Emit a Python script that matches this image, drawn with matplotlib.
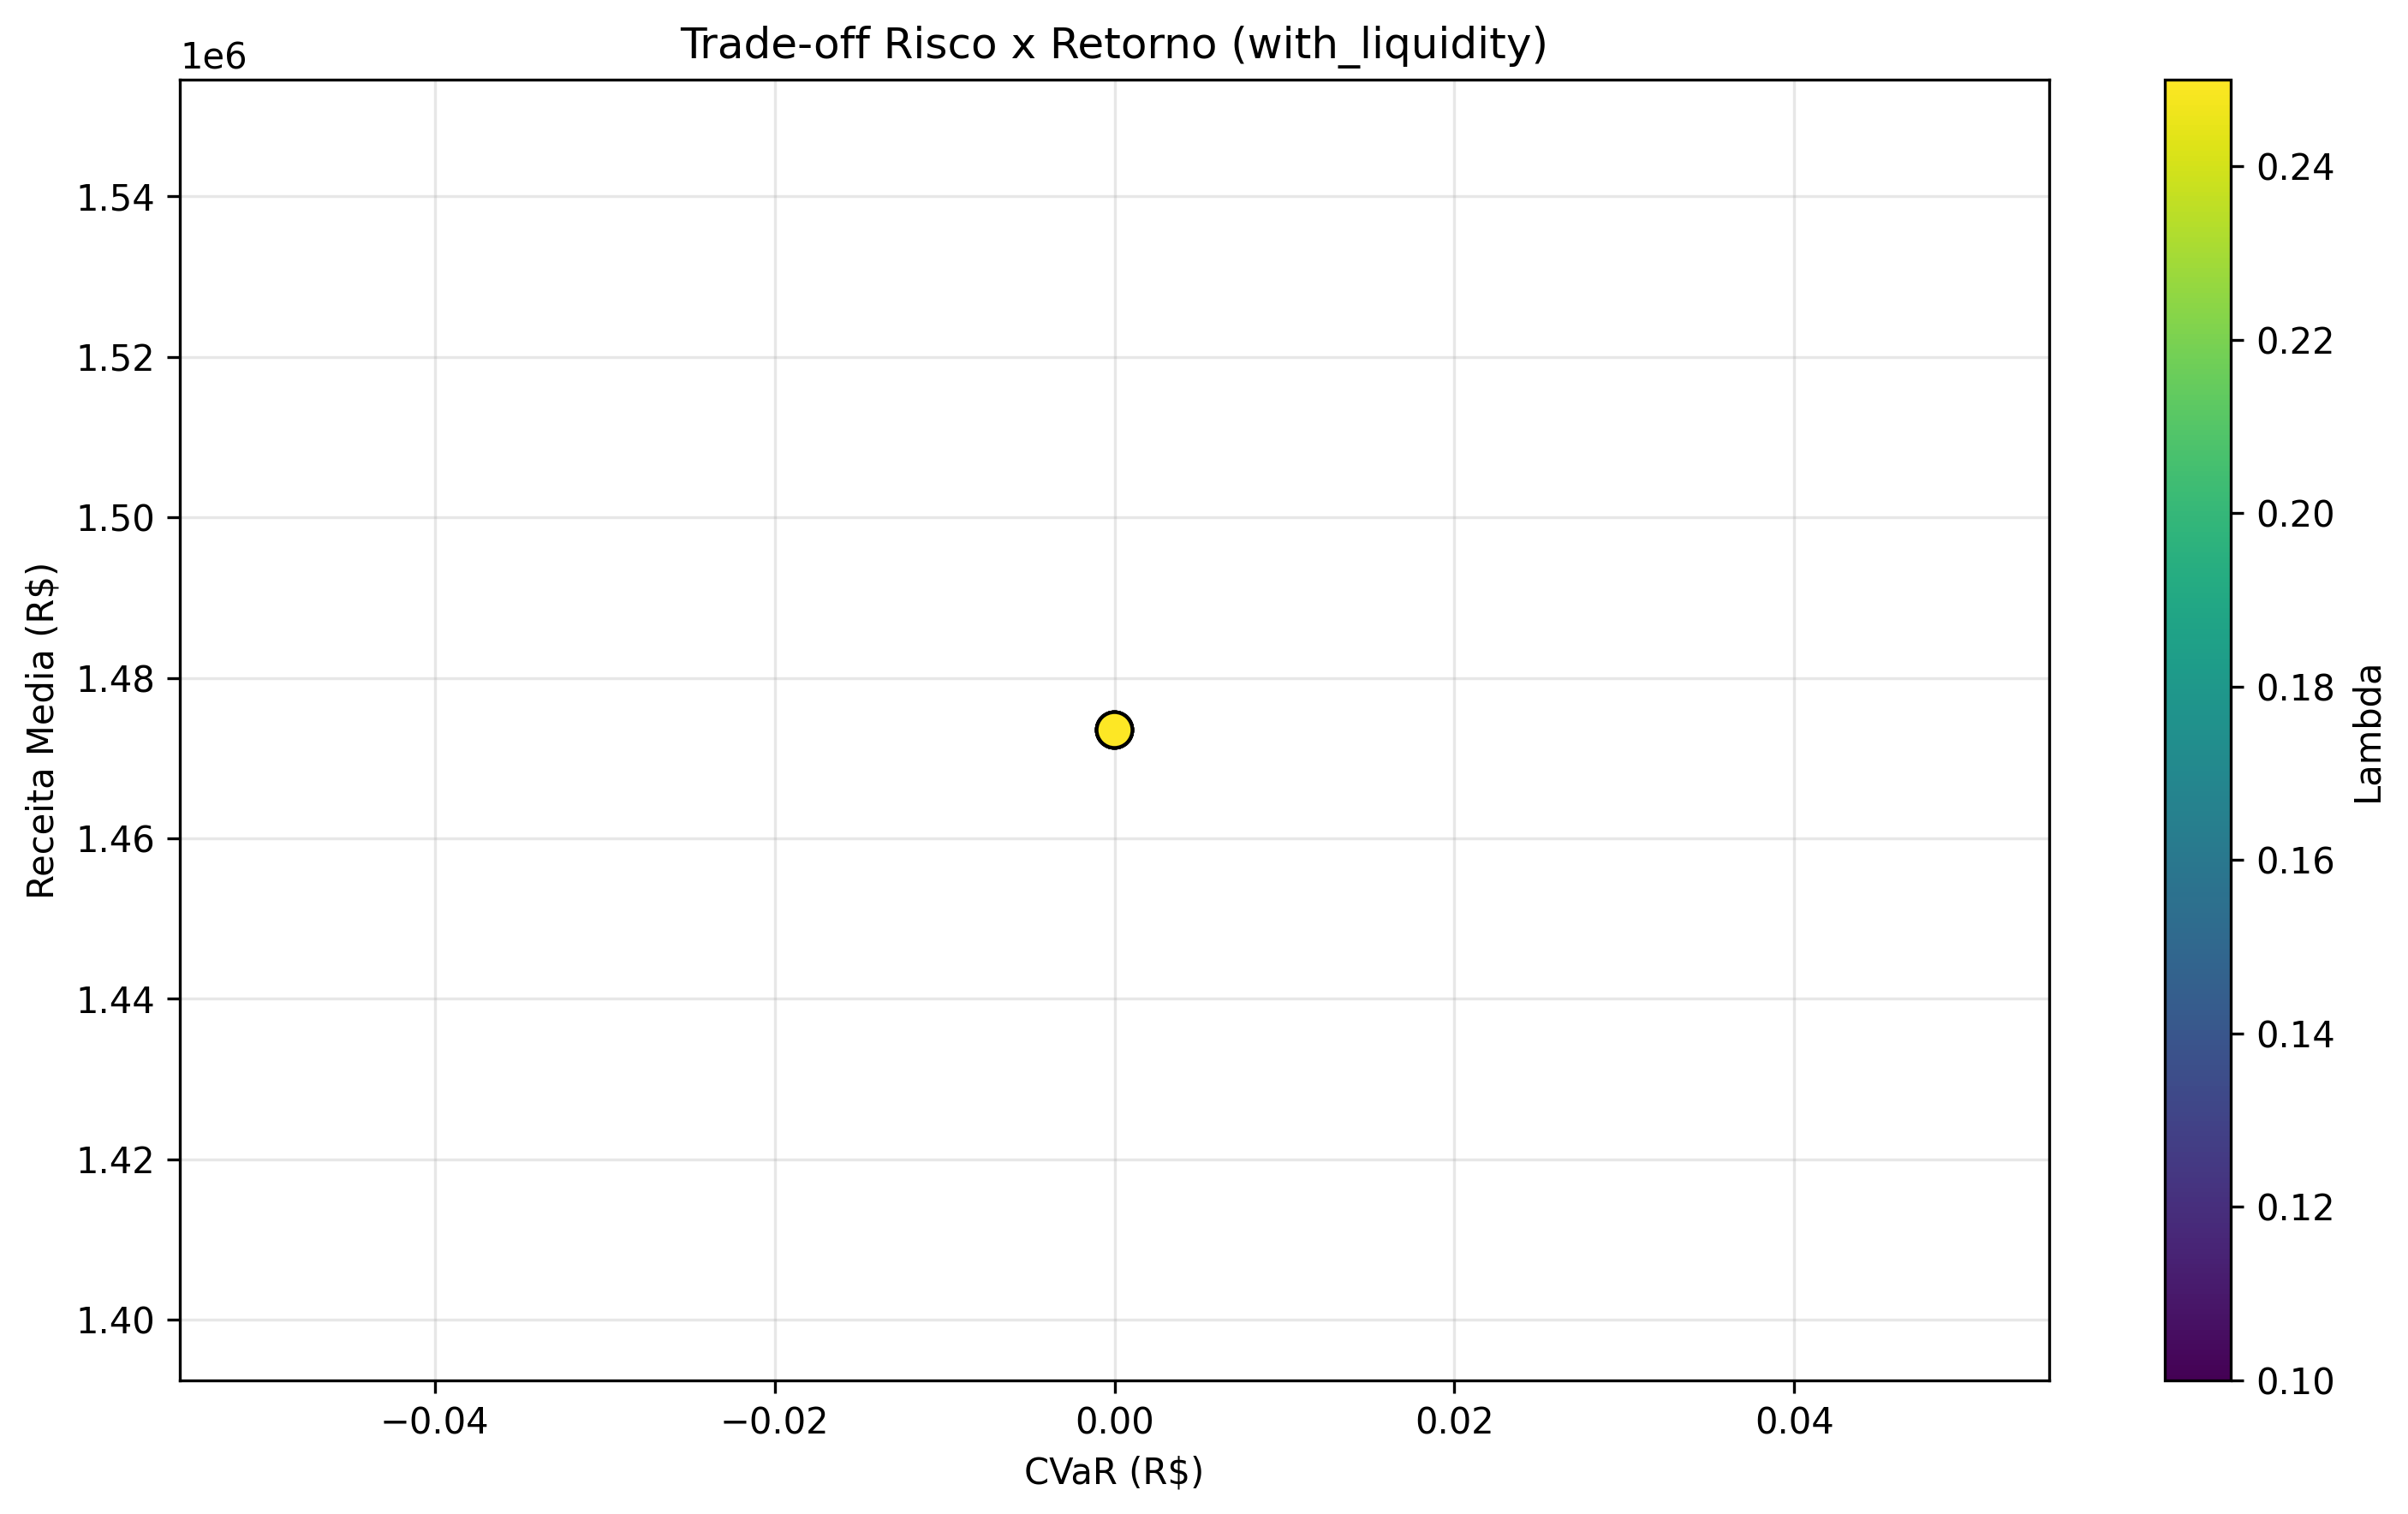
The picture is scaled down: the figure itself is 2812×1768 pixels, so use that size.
import matplotlib
matplotlib.use("Agg")
import matplotlib.pyplot as plt
import numpy as np

lambdas = [0.10, 0.15, 0.20, 0.25]
cvar = [0.0, 0.0, 0.0, 0.0]
receita = [1.4735e6, 1.4735e6, 1.4735e6, 1.4735e6]

W, H = 2812, 1768
fig = plt.figure(figsize=(W / 300, H / 300), dpi=300)
ax = fig.add_axes([210 / W, 1 - 1612 / H, (2393 - 210) / W, (1612 - 93) / H])
cax = fig.add_axes([2528 / W, 1 - 1612 / H, (2605 - 2528) / W, (1612 - 93) / H])

sc = ax.scatter(cvar, receita, c=lambdas, cmap="viridis", s=100,
                edgecolors="black", linewidths=1, zorder=3)
ax.grid(True, alpha=0.3)
ax.set_xlabel("CVaR (R$)")
ax.set_ylabel("Receita Media (R$)")
ax.set_title("Trade-off Risco x Retorno (with_liquidity)")
cb = fig.colorbar(sc, cax=cax)
cb.set_label("Lambda")

fig.savefig("out.png", dpi=300)
